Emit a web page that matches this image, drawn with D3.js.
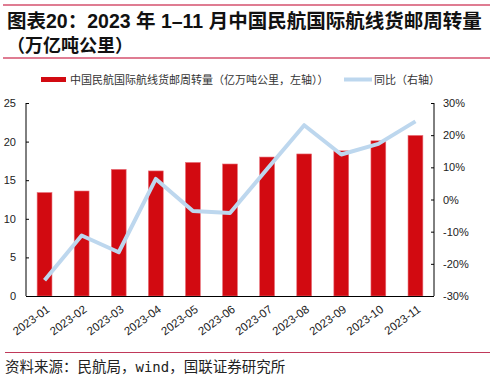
<!DOCTYPE html>
<html><head><meta charset="utf-8">
<script src="https://cdn.jsdelivr.net/npm/d3@7"></script>
<style>body{margin:0;background:#fff}svg{display:block}</style>
</head><body>
<script>
const categories = ["2023-01","2023-02","2023-03","2023-04","2023-05","2023-06","2023-07","2023-08","2023-09","2023-10","2023-11"];
const volume = [13.4,13.6,16.4,16.2,17.3,17.1,18.0,18.4,18.8,20.1,20.8];
const yoy = [-25.1,-11.2,-16.4,6.4,-3.6,-4.2,9.5,23.1,14.0,17.3,24.3];
const leftTicks = [0,5,10,15,20,25];
const rightTicks = [-30,-20,-10,0,10,20,30];
const titleLine1 = "图表20：2023 年 1–11 月中国民航国际航线货邮周转量";
const titleLine2 = "（万亿吨公里）";
const legendBar = "中国民航国际航线货邮周转量（亿万吨公里，左轴））";
const legendLine = "同比（右轴）";
const sourceParts = ["资料来源：民航局，","wind","，国联证券研究所"];

const W=496,H=377;
const svg=d3.select("body").append("svg").attr("width",W).attr("height",H);
const cjk='"Liberation Sans","Noto Sans CJK SC",sans-serif';

// header lines
svg.append("line").attr("x1",3).attr("x2",490).attr("y1",5).attr("y2",5).attr("stroke","#d4506e").attr("stroke-width",1.5);
svg.append("line").attr("x1",3).attr("x2",490).attr("y1",58).attr("y2",58).attr("stroke","#d4506e").attr("stroke-width",1.5);
svg.append("text").attr("x",7).attr("y",28).attr("font-family",cjk).attr("font-weight","bold").attr("font-size",19.5).attr("fill","#111").text(titleLine1);
svg.append("text").attr("x",7).attr("y",52).attr("font-family",cjk).attr("font-weight","bold").attr("font-size",18).attr("fill","#111").text(titleLine2);

const x=d3.scaleBand().domain(categories).range([26,434]).paddingInner(0.6).paddingOuter(0.3);
const yL=d3.scaleLinear().domain([0,25]).range([296,103]);
const yR=d3.scaleLinear().domain([-30,30]).range([296,103]);

// bars
svg.append("g").selectAll("rect").data(volume).join("rect")
  .attr("x",(d,i)=>x(categories[i])).attr("width",x.bandwidth())
  .attr("y",d=>yL(d)).attr("height",d=>yL(0)-yL(d))
  .attr("fill","#d20a11").attr("stroke","#e8707a").attr("stroke-width",0.6);

// line
const line=d3.line().x((d,i)=>x(categories[i])+x.bandwidth()/2).y(d=>yR(d));
svg.append("path").datum(yoy).attr("d",line).attr("fill","none").attr("stroke","#bdd7ee").attr("stroke-width",4).attr("stroke-linejoin","round");

// axes
const axL=svg.append("g").attr("transform","translate(26,0)").call(d3.axisRight(yL).tickValues(leftTicks).tickSize(3).tickFormat(d3.format("d")));
axL.select(".domain").remove();
axL.selectAll("text").attr("x",-10).attr("text-anchor","end");
svg.append("line").attr("x1",26).attr("x2",26).attr("y1",103).attr("y2",296).attr("stroke","#000");
const axR=svg.append("g").attr("transform","translate(434,0)").call(d3.axisLeft(yR).tickValues(rightTicks).tickSize(3).tickFormat(d=>d+"%"));
axR.select(".domain").remove();
axR.selectAll("text").attr("x",9).attr("text-anchor","start");
svg.append("line").attr("x1",434).attr("x2",434).attr("y1",103).attr("y2",296).attr("stroke","#000");
[axL,axR].forEach(a=>{a.selectAll("text").attr("font-family","'Liberation Sans',sans-serif").attr("font-size",11).attr("fill","#222");a.selectAll("line").attr("stroke","#000");});

const axB=svg.append("g").attr("transform","translate(0,296)").call(d3.axisBottom(x).tickSize(0));
axB.select(".domain").attr("stroke","#000").attr("d","M26,0.5H434");
axB.selectAll("text").attr("font-family","'Liberation Sans',sans-serif").attr("font-size",11.5).attr("fill","#222")
  .attr("text-anchor","end").attr("dy",0).attr("y",0).attr("x",0).attr("transform","translate(6,15) rotate(-36)");

// legend
svg.append("rect").attr("x",41).attr("y",77).attr("width",25).attr("height",5).attr("fill","#d20a11");
svg.append("text").attr("x",70).attr("y",83.5).attr("font-family",cjk).attr("font-size",11).attr("fill","#333").text(legendBar);
svg.append("line").attr("x1",344).attr("x2",372).attr("y1",79.5).attr("y2",79.5).attr("stroke","#bdd7ee").attr("stroke-width",4);
svg.append("text").attr("x",374).attr("y",83.5).attr("font-family",cjk).attr("font-size",11).attr("fill","#333").text(legendLine);

// footer
svg.append("line").attr("x1",5).attr("x2",490).attr("y1",352.5).attr("y2",352.5).attr("stroke","#c0395a").attr("stroke-width",1);
const src=svg.append("text").attr("x",5).attr("y",372).attr("font-family",'"Noto Sans CJK SC",sans-serif').attr("font-size",14.5).attr("fill","#222");
src.append("tspan").text(sourceParts[0]);
src.append("tspan").attr("font-family",'"DejaVu Sans Mono",monospace').attr("font-size",14).text(sourceParts[1]);
src.append("tspan").text(sourceParts[2]);
</script>
</body></html>
